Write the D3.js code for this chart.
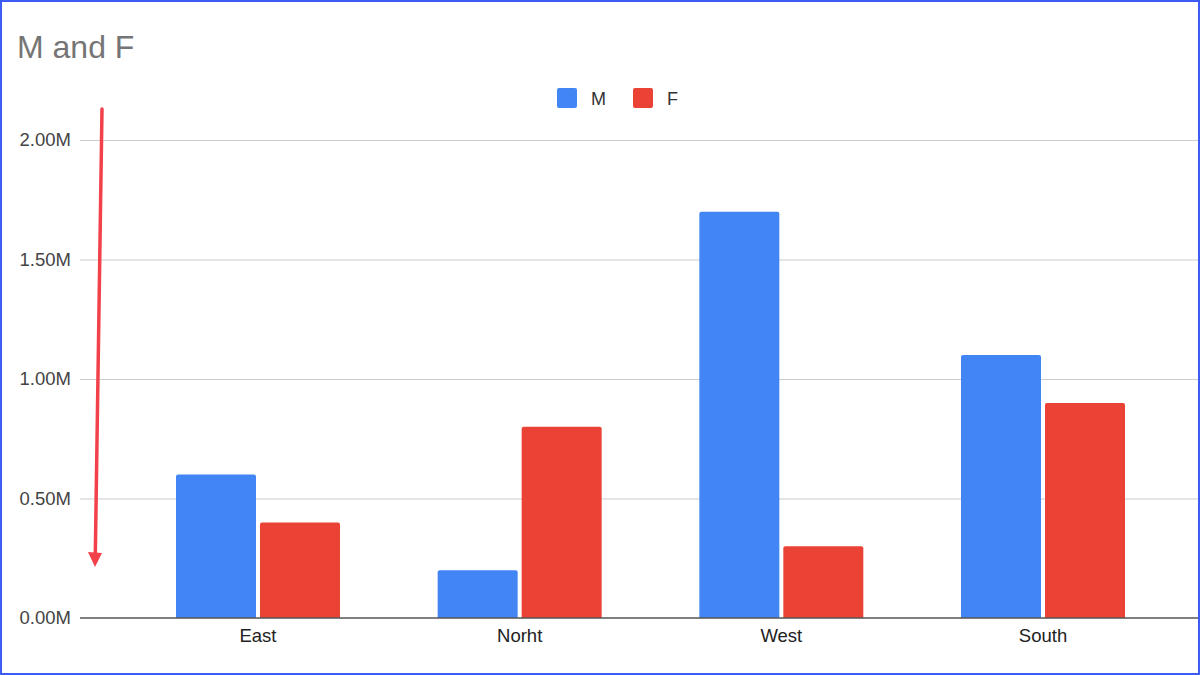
<!DOCTYPE html>
<html>
<head>
<meta charset="utf-8">
<script src="https://cdn.jsdelivr.net/npm/d3@7"></script>
<style>
  html, body { margin: 0; padding: 0; background: #fff; }
  svg { display: block; font-family: "Liberation Sans", Arial, sans-serif; }
</style>
</head>
<body>
<svg id="chart" width="1200" height="675"></svg>
<script>
// ---- data ----
const title = "M and F";
const categories = ["East", "Norht", "West", "South"];
const seriesNames = ["M", "F"];
const seriesM = [600000, 200000, 1700000, 1100000];
const seriesF = [400000, 800000, 300000, 900000];
const yTicks = [0, 500000, 1000000, 1500000, 2000000];
const yTickLabels = ["0.00M", "0.50M", "1.00M", "1.50M", "2.00M"];
const colors = ["#4285f4", "#ea4335"];

// ---- layout ----
const W = 1200, H = 675;
const plotLeft = 80, plotRight = 1198;
const yBottom = 618, yTop = 140;
const FONT = "'Liberation Sans', Arial, sans-serif";

const svg = d3.select("#chart");

// outer border
svg.append("rect").attr("x", 1).attr("y", 1).attr("width", W - 2).attr("height", H - 2)
  .attr("fill", "#fff").attr("stroke", "#3d5cf5").attr("stroke-width", 2);

const y = d3.scaleLinear().domain([0, 2000000]).range([yBottom, yTop]);
const x0 = d3.scaleBand().domain(categories).range([176, 1125]).paddingInner(0.3733).paddingOuter(0);
const x1 = d3.scaleBand().domain(seriesNames).range([0, x0.bandwidth()]).paddingInner(0.0476).paddingOuter(0);

// title
svg.append("text").attr("x", 17).attr("y", 58).text(title)
  .attr("font-size", 32).attr("fill", "#757575");

// gridlines
svg.append("g").selectAll("line").data(yTicks.filter(d => d > 0)).join("line")
  .attr("x1", plotLeft).attr("x2", plotRight)
  .attr("y1", d => y(d) + 0.5).attr("y2", d => y(d) + 0.5)
  .attr("stroke", "#cccccc").attr("stroke-width", 1);

// y axis labels
const yAxis = d3.axisLeft(y).tickValues(yTicks).tickFormat((d, i) => yTickLabels[i]).tickSize(0).tickPadding(9);
const gy = svg.append("g").attr("transform", `translate(${plotLeft},0)`).call(yAxis);
gy.select(".domain").remove();
gy.selectAll("text").attr("font-size", 18.5).attr("fill", "#444").attr("font-family", FONT);

// bars
const data = categories.map((c, i) => ({ c, vals: [seriesM[i], seriesF[i]] }));
const groups = svg.append("g").selectAll("g").data(data).join("g")
  .attr("transform", d => `translate(${x0(d.c)},0)`);
groups.selectAll("path").data(d => d.vals.map((v, j) => ({ v, s: seriesNames[j], j }))).join("path")
  .attr("fill", d => colors[d.j])
  .attr("d", d => {
    const bx = x1(d.s), bw = x1.bandwidth(), top = y(d.v), bot = y(0), r = 2;
    return `M${bx},${bot}V${top + r}Q${bx},${top} ${bx + r},${top}H${bx + bw - r}Q${bx + bw},${top} ${bx + bw},${top + r}V${bot}Z`;
  });

// x axis
const xAxis = d3.axisBottom(x0).tickSize(0).tickPadding(11);
const gx = svg.append("g").attr("transform", `translate(0,${yBottom})`).call(xAxis);
gx.select(".domain").remove();
gx.selectAll("text").attr("font-size", 18.5).attr("fill", "#222").attr("font-family", FONT);
svg.append("line").attr("x1", plotLeft).attr("x2", plotRight).attr("y1", yBottom).attr("y2", yBottom)
  .attr("stroke", "#555").attr("stroke-width", 1.6);

// legend
const legend = svg.append("g");
const legX = [557, 633];
seriesNames.forEach((s, i) => {
  legend.append("rect").attr("x", legX[i]).attr("y", 88).attr("width", 20).attr("height", 20)
    .attr("rx", 2).attr("fill", colors[i]);
  legend.append("text").attr("x", legX[i] + 34).attr("y", 105).text(s)
    .attr("font-size", 18).attr("fill", "#333");
});

// annotation arrow
const ax1 = 102, ay1 = y(2000000) - 31, ax2 = 95, ay2 = y(0) - 51;
svg.append("line").attr("x1", ax1).attr("y1", ay1).attr("x2", ax2 + 0.3).attr("y2", ay2 - 12)
  .attr("stroke", "#f2414b").attr("stroke-width", 3.5).attr("stroke-linecap", "round");
svg.append("path")
  .attr("d", `M${ax2 - 7},${ay2 - 15}L${ax2 + 7},${ay2 - 14}L${ax2},${ay2}Z`)
  .attr("fill", "#f2414b");
</script>
</body>
</html>
